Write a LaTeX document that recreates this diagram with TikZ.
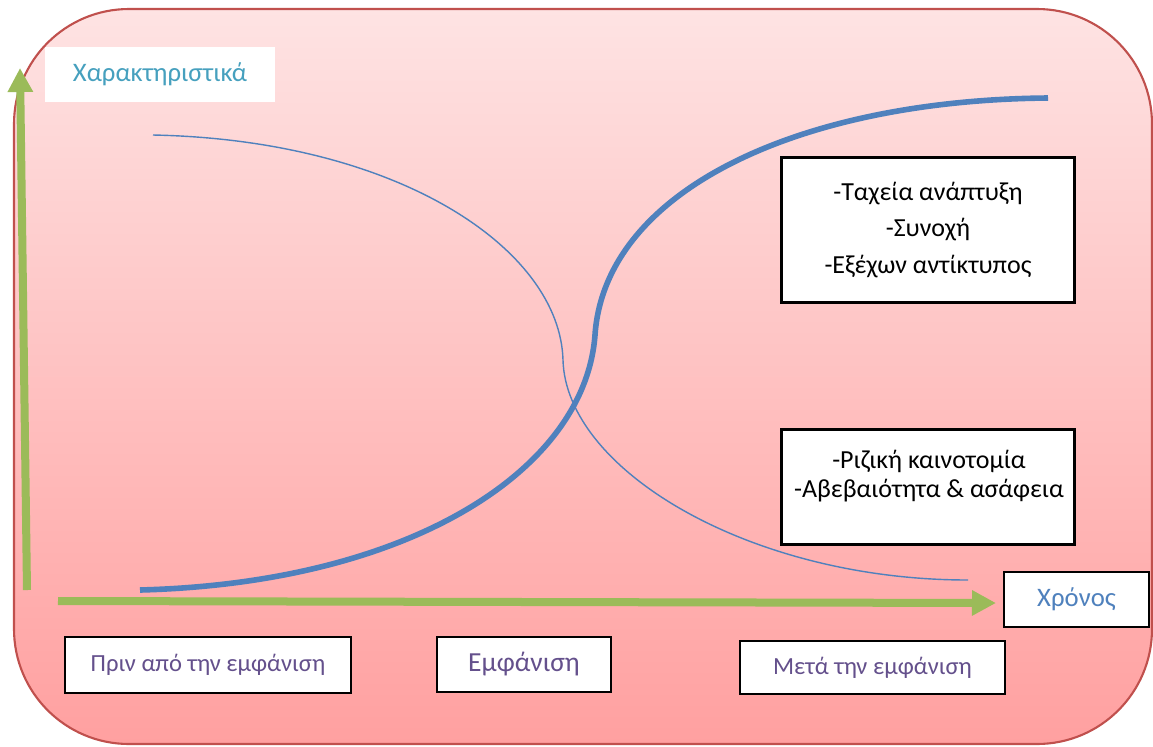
\documentclass[tikz,border=0pt]{standalone}
\usepackage{fontspec}
\setmainfont{Carlito}
\usetikzlibrary{arrows.meta}
\definecolor{axisgreen}{RGB}{155,187,89}
\definecolor{curveblue}{RGB}{79,129,189}
\definecolor{framered}{RGB}{192,80,77}
\definecolor{pinktop}{RGB}{254,227,227}
\definecolor{pinkbottom}{RGB}{255,160,160}
\definecolor{titleteal}{RGB}{70,160,190}
\definecolor{phasepurple}{RGB}{100,80,140}
\begin{document}
\begin{tikzpicture}[x=0.025cm,y=-0.025cm,
  axis/.style={draw=axisgreen,line width=0.2cm,-{Triangle[length=0.6cm,width=0.6cm]}},
  textbox/.style={draw=black,line width=2pt,fill=white,inner sep=0pt,align=center},
  phasebox/.style={textbox,text=phasepurple,font=\fontsize{17.5}{21}\selectfont},
  listbox/.style={textbox,minimum width=7.325cm,font=\fontsize{18.5}{26}\selectfont},
  labelbox/.style={fill=white,inner sep=0pt,font=\fontsize{19}{23}\selectfont}]
\useasboundingbox[fill=white] (0,0) rectangle (1153,746);
% background panel
\path[draw=framered,line width=1.5pt,top color=pinktop,bottom color=pinkbottom,
  rounded corners=2.875cm] (14,9) rectangle (1152,744);

% axes
\coordinate (yfoot) at (27,590);
\coordinate (ytip) at (20,68);
\coordinate (xfoot) at (58,601);
\coordinate (xtip) at (996,603);
\draw[axis] (yfoot) -- (ytip);
\draw[axis] (xfoot) -- (xtip);

% curves
\coordinate (sstart) at (140,590);
\coordinate (smid) at (595,335);
\coordinate (send) at (1048,98);
\draw[curveblue,line width=0.14cm] (sstart) .. controls (410,583) and (585,470) .. (smid)
  .. controls (605,190) and (800,100) .. (send);
\coordinate (dstart) at (153,135);
\coordinate (dmid) at (563,360);
\coordinate (dend) at (968,580);
\draw[curveblue,line width=1pt] (dstart) .. controls (400,140) and (560,250) .. (dmid)
  .. controls (566,470) and (750,580) .. (dend);

% labels
\node[labelbox,text=titleteal,minimum width=5.75cm,minimum height=1.375cm] (features) at (160,74.5) {Χαρακτηριστικά};
\node[textbox,text=curveblue,font=\fontsize{19}{23}\selectfont,minimum width=3.625cm,minimum height=1.375cm] (time) at (1076.5,599.5) {Χρόνος};

\node[listbox,minimum height=3.625cm] (growth) at (928,230)
  {-Ταχεία ανάπτυξη\\-Συνοχή\\-Εξέχων αντίκτυπος};
\node[listbox,minimum height=2.875cm] (radical) at (928,487) {};
\node[font=\fontsize{18.5}{21}\selectfont,align=center] (radicaltext) at (929,476)
  {-Ριζική καινοτομία\\-Αβεβαιότητα \& ασάφεια};

\node[phasebox,minimum width=7.15cm,minimum height=1.4cm] (before) at (208,665) {Πριν από την εμφάνιση};
\node[phasebox,minimum width=4.35cm,minimum height=1.375cm,font=\fontsize{19.6}{24}\selectfont] (emergence) at (524,664.5) {Εμφάνιση};
\node[phasebox,minimum width=6.625cm,minimum height=1.325cm] (after) at (872.5,667.5) {Μετά την εμφάνιση};
\end{tikzpicture}
\end{document}
